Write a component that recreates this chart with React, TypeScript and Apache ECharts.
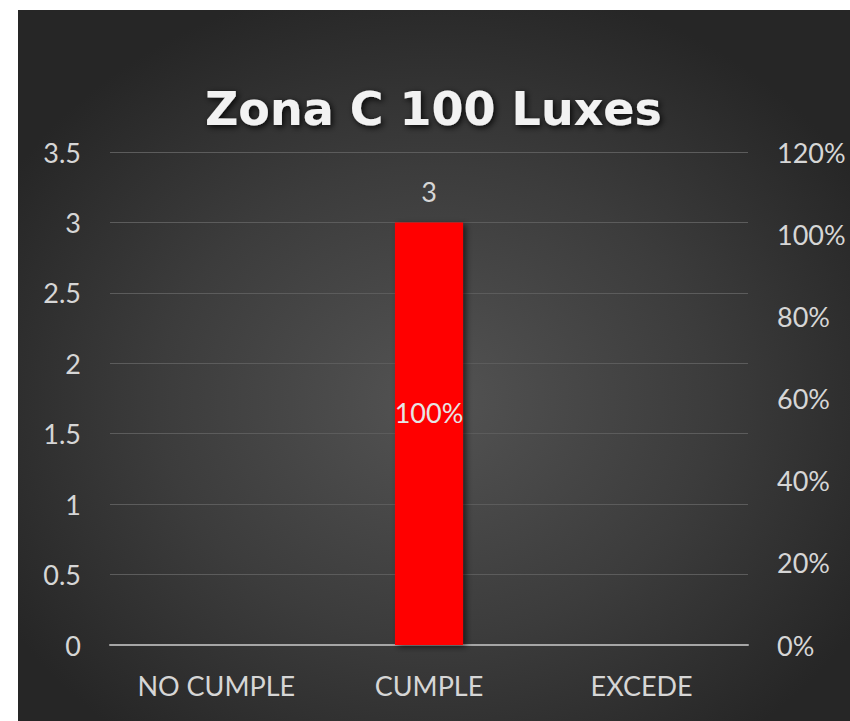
import React, { useEffect, useRef } from "react";
import * as echarts from "echarts";

const categories = ["NO CUMPLE", "CUMPLE", "EXCEDE"];
const counts = [0, 3, 0];
const percents = [0, 1, 0];
const leftTicks = { min: 0, max: 3.5, interval: 0.5 };
const rightTicks = { min: 0, max: 1.2, interval: 0.2 };
const titleText = "Zona C 100 Luxes";

const FONT = "Lato, 'Open Sans', sans-serif";
const LABEL = "#d6d6d6";

export default function App() {
  const ref = useRef<HTMLDivElement>(null);
  useEffect(() => {
    if (!ref.current) return;
    const chart = echarts.init(ref.current, undefined, { renderer: "svg" });
    chart.setOption({
      animation: false,
      backgroundColor: "transparent",
      textStyle: { fontFamily: FONT },
      title: {
        text: titleText,
        left: 182,
        top: 71,
        textStyle: {
          color: "#f2f2f2",
          fontSize: 46,
          fontWeight: "bold",
          fontFamily: "'DejaVu Sans', sans-serif",
          textShadowColor: "rgba(0,0,0,0.85)",
          textShadowBlur: 6,
          textShadowOffsetX: 2,
          textShadowOffsetY: 2,
        },
      },
      grid: { left: 92, right: 102, top: 142, bottom: 76, containLabel: false },
      xAxis: {
        type: "category",
        data: categories,
        axisLine: { lineStyle: { color: "#a6a6a6", width: 2 } },
        axisTick: { show: false },
        axisLabel: { color: LABEL, fontSize: 27, margin: 27, fontFamily: FONT },
      },
      yAxis: [
        {
          type: "value",
          min: leftTicks.min,
          max: leftTicks.max,
          interval: leftTicks.interval,
          axisLine: { show: false },
          axisTick: { show: false },
          splitLine: { lineStyle: { color: "#5c5c5c", width: 1 } },
          axisLabel: { color: LABEL, fontSize: 27, margin: 29, fontFamily: FONT },
        },
        {
          type: "value",
          min: rightTicks.min,
          max: rightTicks.max,
          interval: rightTicks.interval,
          axisLine: { show: false },
          axisTick: { show: false },
          splitLine: { show: false },
          axisLabel: {
            color: LABEL,
            fontSize: 27,
            margin: 29,
            fontFamily: FONT,
            formatter: (v: number) => Math.round(v * 100) + "%",
          },
        },
      ],
      series: [
        {
          type: "bar",
          data: counts,
          yAxisIndex: 0,
          barWidth: "32%",
          itemStyle: {
            color: "#ff0000",
            shadowColor: "rgba(0,0,0,0.6)",
            shadowBlur: 6,
            shadowOffsetX: 3,
            shadowOffsetY: 2,
          },
          label: {
            show: true,
            position: "top",
            distance: 17,
            color: LABEL,
            fontSize: 27,
            fontFamily: FONT,
            formatter: (p: any) => (p.value ? String(p.value) : ""),
          },
          z: 2,
        },
        {
          type: "bar",
          data: percents,
          yAxisIndex: 1,
          barWidth: "32%",
          barGap: "-100%",
          itemStyle: { color: "rgba(0,0,0,0)" },
          label: {
            show: true,
            position: "inside",
            offset: [0, -27],
            color: "#e6e6e6",
            fontSize: 27,
            fontFamily: FONT,
            formatter: (p: any) => (p.value ? Math.round(p.value * 100) + "%" : ""),
          },
          z: 3,
        },
      ],
    });
    return () => chart.dispose();
  }, []);
  return (
    <div
      ref={ref}
      style={{
        position: "absolute",
        left: 18,
        top: 10,
        width: 832,
        height: 711,
        background:
          "radial-gradient(ellipse 60% 60% at 50% 55%, #535353 0%, #3c3c3c 55%, #262626 100%)",
      }}
    />
  );
}
